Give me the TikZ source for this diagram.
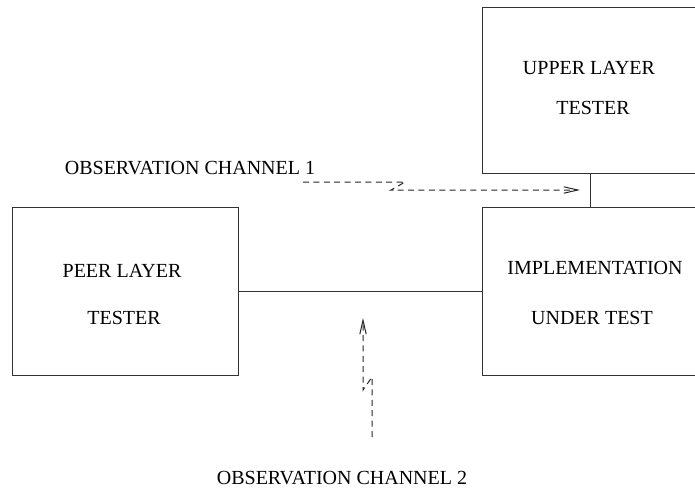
\documentclass[tikz,border=0pt]{standalone}
\usepackage{fontspec}
\setmainfont{Liberation Serif}
\usetikzlibrary{arrows.meta}
\begin{document}
\begin{tikzpicture}[x=0.5pt,y=-0.5pt,
  line width=0.5pt,
  frame/.style={draw=black!80, rectangle, inner sep=0pt,
    minimum width=113pt, minimum height=84pt},
  caption/.style={inner sep=0pt, font=\fontsize{10}{12}\selectfont},
  wire/.style={draw=black!80},
  probe/.style={draw=black!85, dash pattern=on 3pt off 2.2pt,
    -{Straight Barb[length=7pt,width=3.2pt,line width=0.5pt]}}]
\useasboundingbox (0,0) rectangle (695,489);

% boxes
\node[frame] (peer) at (125,291) {};
\node[frame, minimum width=114pt, minimum height=83pt] (upper) at (596,90) {};
\node[frame, minimum width=114pt] (iut) at (596,291) {};

% box texts
\node[caption] (peer1) at (122,271) {PEER LAYER};
\node[caption] (peer2) at (124,318) {TESTER};
\node[caption] (upper1) at (589,68) {UPPER LAYER};
\node[caption] (upper2) at (593,108) {TESTER};
\node[caption] (iut1) at (595,268) {IMPLEMENTATION};
\node[caption] (iut2) at (592,318) {UNDER TEST};

% solid links
\draw[wire] (peer.east) -- (iut.west);
\coordinate (tap) at (590,0);
\draw[wire] (upper.south -| tap) -- (iut.north -| tap);

% observation channels
\node[caption] (ch1) at (190,168) {OBSERVATION CHANNEL 1};
\node[caption] (ch2) at (342,478) {OBSERVATION CHANNEL 2};

\coordinate (c1a) at (303,182);
\coordinate (c1b) at (405,182);
\coordinate (c1c) at (391,190);
\coordinate (c1d) at (580,190);
\draw[probe] (c1a) -- (c1b) -- (c1c) -- (c1d);

\coordinate (c2a) at (372,437);
\coordinate (c2b) at (372,377);
\coordinate (c2c) at (363,390);
\coordinate (c2d) at (363,318);
\draw[probe] (c2a) -- (c2b) -- (c2c) -- (c2d);
\end{tikzpicture}
\end{document}
